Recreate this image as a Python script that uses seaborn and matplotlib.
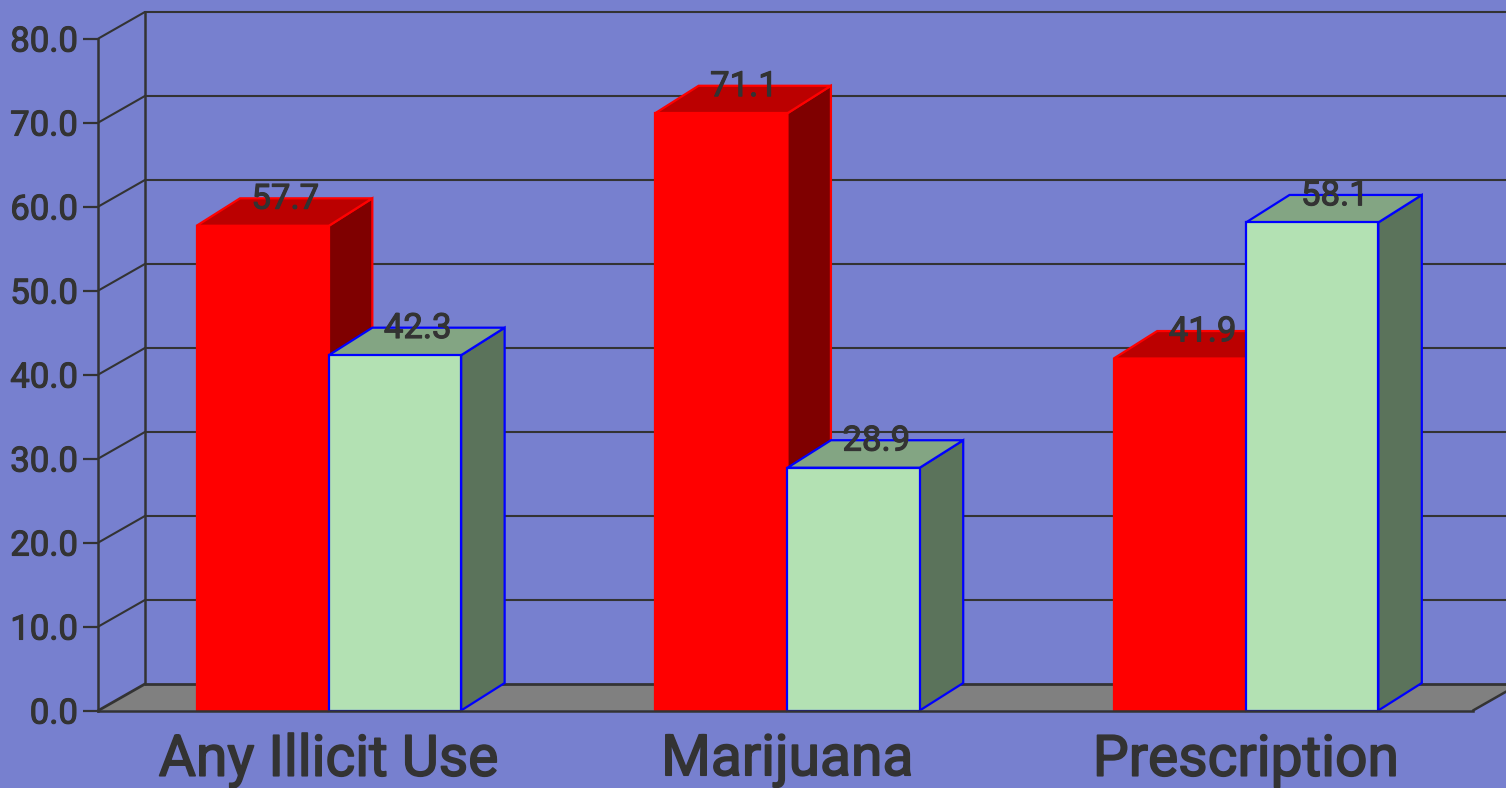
import pandas as pd
import matplotlib.pyplot as plt
import matplotlib.patheffects as pe
from matplotlib.patches import Polygon
import seaborn as sns

categories = ["Any Illicit Use", "Marijuana", "Prescription"]
series_names = ["A", "B"]
series_a = [57.7, 71.1, 41.9]
series_b = [42.3, 28.9, 58.1]
y_ticks = [0, 10, 20, 30, 40, 50, 60, 70, 80]

BG = "#7780CF"
DARK = "#333333"
FONT = "Roboto"

# front, top, side fill and edge for each series
styles = [
    {"front": "#FF0000", "top": "#BB0000", "side": "#7F0000", "edge": "#FF0000"},
    {"front": "#B3E1B3", "top": "#83A583", "side": "#5B735B", "edge": "#0000FF"},
]

df = pd.DataFrame({
    "category": categories * 2,
    "series": [series_names[0]] * 3 + [series_names[1]] * 3,
    "value": series_a + series_b,
})

sns.set_theme(style="white")
plt.rcParams["font.family"] = [FONT, "DejaVu Sans"]

W, H = 1506, 788
fig = plt.figure(figsize=(W / 100, H / 100), dpi=100, facecolor=BG)
left, right, top, bottom = 98.4, 1473.0, 38.5, 710.5
ax = fig.add_axes([left / W, 1 - bottom / H, (right - left) / W, (bottom - top) / H])
ax.set_facecolor("none")

sns.barplot(
    data=df, x="category", y="value", hue="series", order=categories,
    palette=[s["front"] for s in styles], width=0.577, gap=0, saturation=1,
    legend=False, ax=ax,
)
ax.set_xlim(-0.5025, 2.495)
ax.set_ylim(0, 80)
ax.set_xlabel("")
ax.set_ylabel("")

# depth of the fake 3D box, in data units
x_per_px = (2.495 + 0.5025) / (right - left)
y_per_px = 80 / (bottom - top)
dx_bar, dy_bar = 43.5 * x_per_px, 27.5 * y_per_px
dx_wall, dy_wall = 46.5 * x_per_px, 26.5 * y_per_px
x0, x1 = ax.get_xlim()

# floor, back wall and grid
ax.add_patch(Polygon(
    [(x0, 0), (x1, 0), (x1 + dx_wall, dy_wall), (x0 + dx_wall, dy_wall)],
    facecolor="#808080", edgecolor="none", zorder=0.2, clip_on=False,
))
for v in y_ticks:
    lw = 2.0 if v == 0 else 1.5
    ax.plot([x0, x0 + dx_wall], [v, v + dy_wall], color=DARK, lw=lw, zorder=0.4, clip_on=False)
    ax.plot([x0 + dx_wall, x1 + 1], [v + dy_wall] * 2, color=DARK, lw=lw, zorder=0.4, clip_on=False)
ax.plot([x0 + dx_wall] * 2, [dy_wall, 80 + dy_wall], color=DARK, lw=1.8, zorder=0.4, clip_on=False)
ax.plot([x1, x1 + dx_wall], [0, dy_wall], color=DARK, lw=1.8, zorder=0.4, clip_on=False)

# 3D faces and labels for each bar
for i, (container, style) in enumerate(zip(ax.containers, styles)):
    z = 1 + i
    for bar in container:
        xa = bar.get_x()
        xb = xa + bar.get_width()
        h = bar.get_height()
        bar.set_edgecolor(style["edge"])
        bar.set_linewidth(1.6)
        bar.set_zorder(z + 0.2)
        ax.add_patch(Polygon(
            [(xb, 0), (xb + dx_bar, dy_bar), (xb + dx_bar, h + dy_bar), (xb, h)],
            facecolor=style["side"], edgecolor=style["edge"], lw=1.6, zorder=z, clip_on=False,
        ))
        ax.add_patch(Polygon(
            [(xa, h), (xb, h), (xb + dx_bar, h + dy_bar), (xa + dx_bar, h + dy_bar)],
            facecolor=style["top"], edgecolor=style["edge"], lw=1.6, zorder=z, clip_on=False,
        ))
        ax.text(
            (xa + xb) / 2 + dx_bar / 2 + 1.0 * x_per_px, h + dy_bar - 0.1, f"{h:.1f}",
            ha="center", va="center", fontsize=25, color=DARK, zorder=5,
            path_effects=[pe.withStroke(linewidth=0.8, foreground=DARK)],
        )

for name in ["top", "right"]:
    ax.spines[name].set_visible(False)
for name in ["left", "bottom"]:
    ax.spines[name].set_color(DARK)
    ax.spines[name].set_linewidth(1.8)
    ax.spines[name].set_zorder(4)

ax.set_yticks(y_ticks)
ax.set_yticklabels([f"{v:.1f}" for v in y_ticks])
ax.tick_params(axis="y", left=True, length=10.5, width=1.6, color=DARK, labelcolor=DARK,
               labelsize=25, pad=4)
ax.tick_params(axis="x", bottom=False, labelcolor=DARK, labelsize=41, pad=10)
for label in ax.get_yticklabels():
    label.set_path_effects([pe.withStroke(linewidth=0.8, foreground=DARK)])
for label in ax.get_xticklabels():
    label.set_path_effects([pe.withStroke(linewidth=1.2, foreground=DARK)])

fig.savefig("out.png", dpi=100, facecolor=BG)
